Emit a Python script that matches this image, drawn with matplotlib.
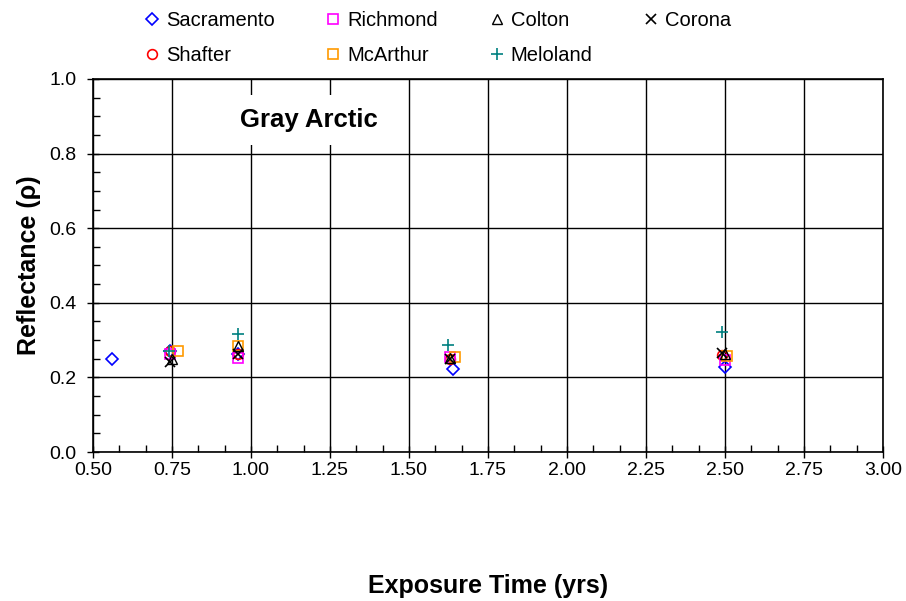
import matplotlib
matplotlib.use("Agg")
import matplotlib.pyplot as plt
from matplotlib.ticker import MultipleLocator

plt.rcParams['font.family'] = ['Liberation Sans', 'DejaVu Sans']

# data
sacramento_x = [0.56, 0.745, 0.96, 1.64, 2.50]
sacramento_y = [0.249, 0.270, 0.264, 0.222, 0.228]
richmond_x = [0.745, 0.96, 1.63, 2.50]
richmond_y = [0.262, 0.253, 0.255, 0.247]
colton_x = [0.75, 0.96, 1.63, 2.50]
colton_y = [0.248, 0.285, 0.252, 0.262]
corona_x = [0.745, 0.96, 1.63, 2.49]
corona_y = [0.242, 0.264, 0.250, 0.265]
shafter_x = [0.745, 0.96, 1.63, 2.49]
shafter_y = [0.272, 0.264, 0.248, 0.260]
mcarthur_x = [0.77, 0.96, 1.645, 2.505]
mcarthur_y = [0.272, 0.285, 0.256, 0.258]
meloland_x = [0.74, 0.96, 1.625, 2.49]
meloland_y = [0.272, 0.317, 0.287, 0.322]

fig = plt.figure(figsize=(9.06, 6.01), dpi=100)
ax = fig.add_axes([0.1026, 0.2479, 0.872, 0.6207])

ms = 7
ax.plot(sacramento_x, sacramento_y, 'D', ms=6, mfc='none', mec='#0000FF', mew=1.2, label='Sacramento')
ax.plot(shafter_x, shafter_y, 'o', ms=ms, mfc='none', mec='#FF0000', mew=1.2, label='Shafter')
ax.plot(richmond_x, richmond_y, 's', ms=ms, mfc='none', mec='#FF00FF', mew=1.2, label='Richmond')
ax.plot(mcarthur_x, mcarthur_y, 's', ms=ms, mfc='none', mec='#FF9900', mew=1.2, label='McArthur')
ax.plot(colton_x, colton_y, '^', ms=ms, mfc='none', mec='black', mew=1.0, label='Colton')
ax.plot(meloland_x, meloland_y, '+', ms=9, mec='#008080', mew=1.2, label='Meloland')
ax.plot(corona_x, corona_y, 'x', ms=ms, mec='black', mew=1.2, label='Corona')

ax.set_xlim(0.5, 3.0)
ax.set_ylim(0.0, 1.0)
ax.xaxis.set_major_locator(MultipleLocator(0.25))
ax.xaxis.set_minor_locator(MultipleLocator(0.25 / 3))
ax.yaxis.set_major_locator(MultipleLocator(0.2))
ax.yaxis.set_minor_locator(MultipleLocator(0.05))
ax.set_xticklabels([f"{v:.2f}" for v in ax.get_xticks()])
ax.set_yticklabels([f"{v:.1f}" for v in ax.get_yticks()])
ax.tick_params(which='major', direction='inout', length=8, width=1, labelsize=14, colors='black')
ax.tick_params(axis='y', which='major', pad=8)
ax.tick_params(which='minor', direction='in', length=5, width=1)
ax.grid(True, which='major', color='black', linewidth=1)
ax.set_axisbelow(True)
for s in ax.spines.values():
    s.set_linewidth(1.2)

# chart title sits inside the plot on a white box
ax.text(0.273, 0.89, 'Gray Arctic', transform=ax.transAxes, ha='center', va='center',
        fontsize=18.5, fontweight='bold',
        bbox=dict(facecolor='white', edgecolor='none', pad=9))

ax.set_xlabel('Exposure Time (yrs)', fontsize=18, fontweight='bold')
ax.set_ylabel('Reflectance (ρ)', fontsize=18, fontweight='bold')
ax.xaxis.set_label_coords(0.5, -0.327)
ax.yaxis.set_label_coords(-0.066, 0.5)

fig.legend(loc='upper left', bbox_to_anchor=(0.148, 1.002), ncol=4, frameon=False,
           fontsize=14.5, handlelength=0.6, handletextpad=0.4, columnspacing=2.6,
           labelspacing=0.8, borderaxespad=0.2)

fig.savefig('out.png', dpi=100)
